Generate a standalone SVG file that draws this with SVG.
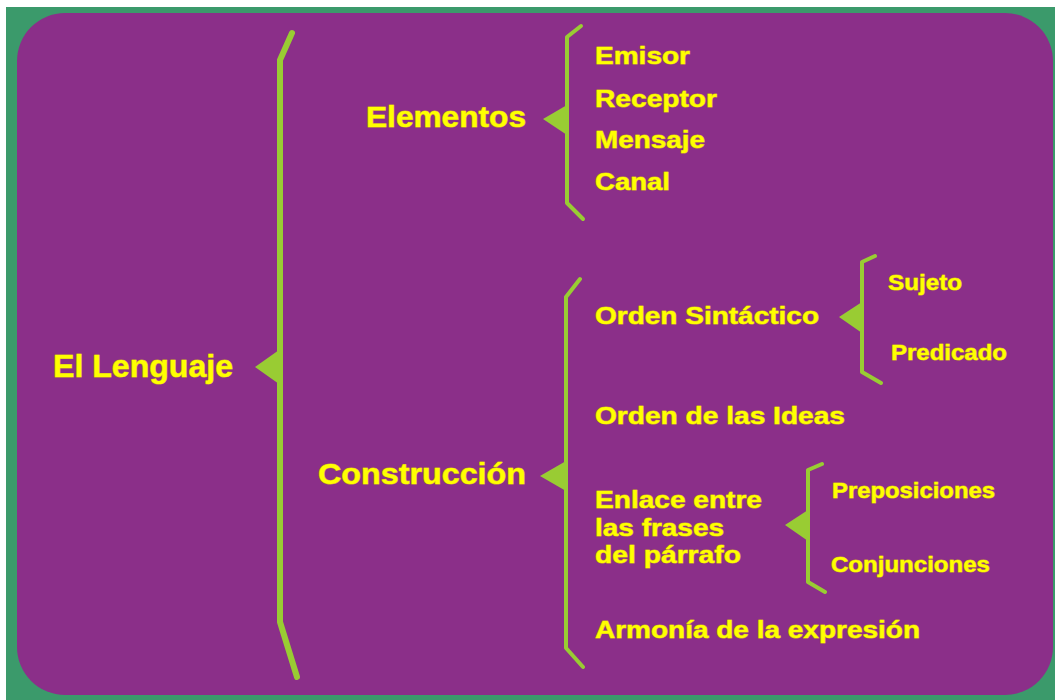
<svg xmlns="http://www.w3.org/2000/svg" width="1055" height="700" viewBox="0 0 1055 700">
<style>
.t{font-family:"Liberation Sans",Arial,sans-serif;font-weight:bold;fill:#ffff00;stroke:#d0b020;stroke-width:1;paint-order:stroke;stroke-linejoin:round}
.l{font-size:32px}
.m{font-size:29.5px}
.s{font-size:24.5px}
.xs{font-size:21.5px}
.b{fill:none;stroke:#99cc33;stroke-linecap:round;stroke-linejoin:round}
.tri{fill:#99cc33}
</style>
<rect x="0" y="0" width="1055" height="700" fill="#ffffff"/>
<rect x="6" y="7" width="1049" height="693" fill="#3b9a6b"/>
<rect x="17" y="13" width="1036" height="682" rx="48" ry="48" fill="#8b2f89"/>
<g id="connectors">
<polyline class="b" stroke-width="6" points="292,33 280,60 280,622 297,677"/>
<polygon class="tri" points="255,367 279,350 279,384"/>
<polyline class="b" stroke-width="4" points="581,26 567,37 567,203 583,219"/>
<polygon class="tri" points="543,119 567,105 567,135"/>
<polyline class="b" stroke-width="4" points="580,279 566,297 566,648 583,667"/>
<polygon class="tri" points="540,476 566,461 566,491"/>
<polyline class="b" stroke-width="4" points="875,256 862,262 862,372 881,383"/>
<polygon class="tri" points="839,317 862,302 862,333"/>
<polyline class="b" stroke-width="4" points="822,464 808,470 808,582 825,592"/>
<polygon class="tri" points="785,525 808,510 808,541"/>
</g>
<g id="n-lenguaje"><text class="t l" x="53" y="377" textLength="180" lengthAdjust="spacingAndGlyphs">El Lenguaje</text></g>
<g id="n-elementos"><text class="t m" x="366" y="127" textLength="160" lengthAdjust="spacingAndGlyphs">Elementos</text></g>
<g id="n-construccion"><text class="t m" x="318" y="484" textLength="208" lengthAdjust="spacingAndGlyphs">Construcción</text></g>
<g id="n-emisor"><text class="t s" x="595" y="64" textLength="95" lengthAdjust="spacingAndGlyphs">Emisor</text></g>
<g id="n-receptor"><text class="t s" x="595" y="107" textLength="122" lengthAdjust="spacingAndGlyphs">Receptor</text></g>
<g id="n-mensaje"><text class="t s" x="595" y="148" textLength="110" lengthAdjust="spacingAndGlyphs">Mensaje</text></g>
<g id="n-canal"><text class="t s" x="595" y="190" textLength="75" lengthAdjust="spacingAndGlyphs">Canal</text></g>
<g id="n-orden-sintactico"><text class="t s" x="595" y="324" textLength="224" lengthAdjust="spacingAndGlyphs">Orden Sintáctico</text></g>
<g id="n-orden-ideas"><text class="t s" x="595" y="424" textLength="250" lengthAdjust="spacingAndGlyphs">Orden de las Ideas</text></g>
<g id="n-enlace">
<text class="t s" x="595" y="508" textLength="167" lengthAdjust="spacingAndGlyphs">Enlace entre</text>
<text class="t s" x="595" y="536" textLength="129" lengthAdjust="spacingAndGlyphs">las frases</text>
<text class="t s" x="595" y="563" textLength="146" lengthAdjust="spacingAndGlyphs">del párrafo</text>
</g>
<g id="n-armonia"><text class="t s" x="595" y="638" textLength="325" lengthAdjust="spacingAndGlyphs">Armonía de la expresión</text></g>
<g id="n-sujeto"><text class="t xs" x="888" y="290" textLength="74" lengthAdjust="spacingAndGlyphs">Sujeto</text></g>
<g id="n-predicado"><text class="t xs" x="891" y="360" textLength="116" lengthAdjust="spacingAndGlyphs">Predicado</text></g>
<g id="n-preposiciones"><text class="t xs" x="832" y="498" textLength="163" lengthAdjust="spacingAndGlyphs">Preposiciones</text></g>
<g id="n-conjunciones"><text class="t xs" x="831" y="572" textLength="159" lengthAdjust="spacingAndGlyphs">Conjunciones</text></g>
</svg>
